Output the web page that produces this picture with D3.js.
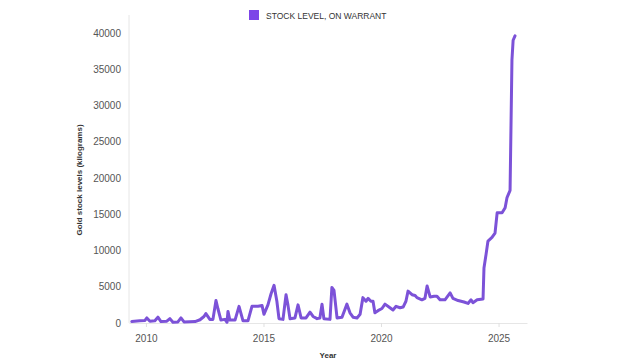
<!DOCTYPE html>
<html><head><meta charset="utf-8">
<script src="https://cdn.jsdelivr.net/npm/d3@7"></script>
<style>body{margin:0;background:#fff;}svg{display:block;font-family:"Liberation Sans",Arial,sans-serif;}</style>
</head><body><svg id="c" width="640" height="360"></svg>
<script>
const years = [2009.40,2009.74,2009.96,2010.04,2010.17,2010.38,2010.51,2010.64,2010.89,2011.02,2011.15,2011.36,2011.49,2011.62,2012.09,2012.30,2012.47,2012.55,2012.72,2012.85,2012.98,2013.06,2013.19,2013.36,2013.45,2013.49,2013.57,2013.79,2013.96,2014.13,2014.34,2014.51,2014.77,2014.94,2015.02,2015.19,2015.32,2015.45,2015.57,2015.66,2015.83,2015.96,2016.04,2016.13,2016.34,2016.47,2016.60,2016.81,2016.98,2017.11,2017.28,2017.40,2017.49,2017.57,2017.83,2017.91,2018.00,2018.13,2018.34,2018.55,2018.68,2018.81,2018.98,2019.11,2019.23,2019.36,2019.45,2019.57,2019.66,2019.74,2019.87,2020.04,2020.17,2020.38,2020.51,2020.64,2020.81,2020.94,2021.06,2021.15,2021.32,2021.45,2021.53,2021.74,2021.87,2021.96,2022.09,2022.26,2022.38,2022.51,2022.72,2022.94,2023.06,2023.28,2023.53,2023.70,2023.83,2023.91,2024.09,2024.34,2024.38,2024.47,2024.55,2024.72,2024.85,2024.94,2025.15,2025.28,2025.36,2025.49,2025.57,2025.62,2025.70];
const stockKg = [200,300,350,700,250,300,800,200,250,600,100,150,700,150,200,450,900,1300,500,500,3100,2000,400,500,100,1600,400,400,2300,300,300,2300,2300,2400,1200,2500,4000,5200,3000,600,500,3900,2500,600,700,2500,700,700,1500,900,600,700,2600,600,500,4900,4500,700,800,2600,1400,800,700,1200,3500,3000,3400,3000,3000,1400,1700,2000,2600,2100,1800,2300,2100,2200,3000,4400,3900,3800,3500,3200,3400,5100,3600,3700,3700,3200,3200,4150,3400,3100,2900,2700,3200,2800,3200,3300,7600,9500,11300,11800,12400,15200,15200,15900,17300,18300,36300,39000,39600];
const yTicks = [0,5000,10000,15000,20000,25000,30000,35000,40000];
const xTicks = [2010,2015,2020,2025];
const seriesName = "STOCK LEVEL, ON WARRANT";
const xTitle = "Year";
const yTitle = "Gold stock levels (kilograms)";

const svg = d3.select("#c");
const mLeft = 129, mRight = 527, mTop = 15, mBottom = 323;
const x = d3.scaleLinear().domain([2009.28, 2026.21]).range([mLeft, mRight]);
const y = d3.scaleLinear().domain([0, 40000]).range([mBottom, 33]);

// y axis
const ya = svg.append("g").attr("transform", `translate(${mLeft},0)`)
  .call(d3.axisLeft(y).tickValues(yTicks).tickFormat(d3.format("d")).tickSize(0).tickPadding(8));
ya.select(".domain").remove();
ya.selectAll("text").attr("fill", "#555").style("font-size", "10px");
svg.append("line").attr("x1", mLeft).attr("x2", mLeft).attr("y1", mTop).attr("y2", mBottom)
  .attr("stroke", "#e6e6e6").attr("stroke-width", 1);

// x axis
const xa = svg.append("g").attr("transform", `translate(0,${mBottom})`)
  .call(d3.axisBottom(x).tickValues(xTicks).tickFormat(d3.format("d")).tickSize(4).tickPadding(8).tickSizeOuter(0));
xa.select(".domain").attr("stroke", "#e6e6e6");
xa.selectAll(".tick line").attr("stroke", "#e0e0e0");
xa.selectAll("text").attr("fill", "#555").style("font-size", "10px");

// line
const line = d3.line().x((d, i) => x(years[i])).y(d => y(d));
svg.append("path").datum(stockKg).attr("d", line)
  .attr("fill", "none").attr("stroke", "#7c52d8").attr("stroke-width", 3)
  .attr("stroke-linejoin", "round").attr("stroke-linecap", "round");

// titles
svg.append("text").attr("x", 328).attr("y", 358).attr("text-anchor", "middle")
  .style("font-size", "8px").style("font-weight", "bold").attr("fill", "#333").text(xTitle);
svg.append("text").attr("transform", "translate(82,180) rotate(-90)").attr("text-anchor", "middle")
  .style("font-size", "8px").style("font-weight", "bold").attr("fill", "#333").text(yTitle);

// legend
svg.append("rect").attr("x", 249).attr("y", 10).attr("width", 10).attr("height", 10).attr("fill", "#7d45e8");
svg.append("text").attr("x", 266).attr("y", 18.5).style("font-size", "8.5px").attr("fill", "#333").text(seriesName);
</script></body></html>
